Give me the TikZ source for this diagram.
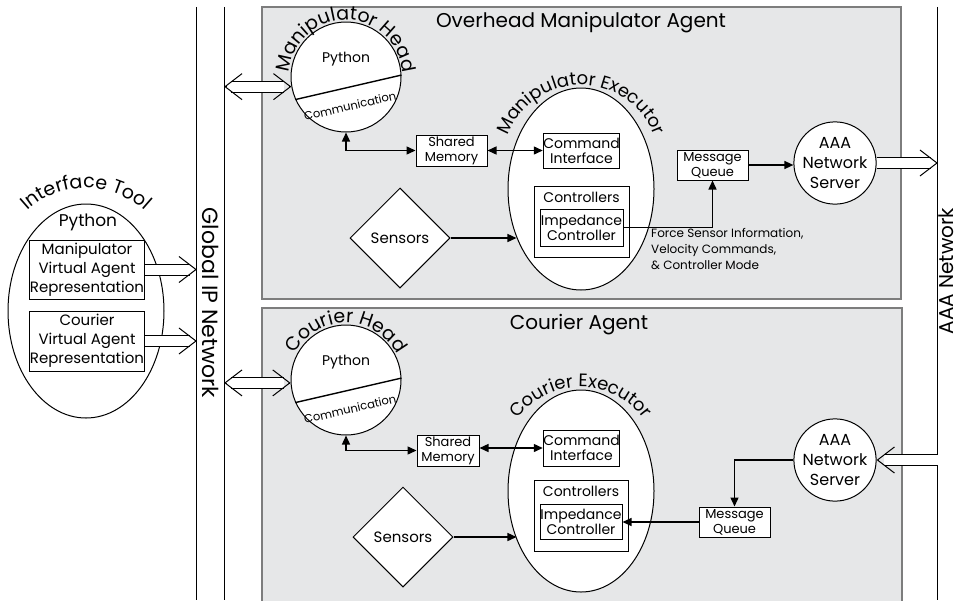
\documentclass[tikz,border=0pt]{standalone}
\usepackage{fontspec}
\setmainfont{Poppins}
\usetikzlibrary{positioning}
\usetikzlibrary{calc}
\usetikzlibrary{arrows.meta}
\usetikzlibrary{shapes.geometric}
\usetikzlibrary{decorations.text}
\definecolor{panelfill}{RGB}{230,231,232}
\definecolor{panelrule}{RGB}{125,125,125}
\newcommand\bigfont{\fontsize{20}{24}\selectfont}
\newcommand\arcfont{\fontsize{19}{19}\selectfont}
\newcommand\execfont{\fontsize{18}{18}\selectfont}
\newcommand\boxfont{\fontsize{14}{15}\selectfont}
\newcommand\smallfont{\fontsize{13}{15}\selectfont}
\newcommand\notefont{\fontsize{12}{16}\selectfont}
\newcommand\commfont{\fontsize{11.5}{14}\selectfont}
\newcommand\itoolfont{\fontsize{15}{19}\selectfont}
\newcommand\pipeR[2]{%
    \draw[pipe, shorten >=7pt] (#1) -- (#2);
    \draw[chev] ($(#2)!2pt!(#1)$) -- (#2);}
\newcommand\pipeLR[2]{%
    \draw[pipe, shorten >=7pt, shorten <=7pt] (#1) -- (#2);
    \draw[chev] ($(#2)!2pt!(#1)$) -- (#2);
    \draw[chev] ($(#1)!2pt!(#2)$) -- (#1);}

\begin{document}
\begin{tikzpicture}[x=1pt, y=1pt,
    every node/.style={inner sep=0pt, align=center},
    panel/.style={fill=panelfill, draw=panelrule, line width=1.2pt},
    box/.style={draw, fill=white, line width=1pt},
    head/.style={circle, draw, fill=white, line width=1pt, minimum size=110pt},
    exec/.style={ellipse, draw, fill=white, line width=1pt, minimum width=146pt, minimum height=202pt},
    sensor/.style={diamond, draw, fill=white, line width=1pt, minimum width=100pt, minimum height=100pt, font=\fontsize{15}{17}\selectfont},
    server/.style={circle, draw, fill=white, line width=1pt, minimum size=82pt, font=\fontsize{16}{20}\selectfont},
    link/.style={line width=1.4pt, -{Triangle[length=9pt,width=8pt]}},
    twolink/.style={line width=1.4pt, {Triangle[length=9pt,width=8pt]}-{Triangle[length=9pt,width=8pt]}},
    pipe/.style={double, double distance=10pt, line width=1pt},
    chev/.style={-{Straight Barb[length=17pt,width=26pt,line width=1pt]}},
    arctext/.style={decorate, decoration={text along path, text align=center, text={|\arcfont|#1}}},
    exectext/.style={decorate, decoration={text along path, text align=center, text={|\execfont|#1}}}]
    \useasboundingbox (0,0) rectangle (960,-600);

    \draw[panel] (262,-7) rectangle (901,-299);
    \draw[panel] (262,-308) rectangle (902,-610);

    \node[minimum width=27pt, minimum height=593pt] (gip) at (210.5,-303.5) {};
    \draw[line width=1pt] (gip.north west) -- (gip.south west) (gip.north east) -- (gip.south east);
    \node[rotate=-90, font=\fontsize{22}{24}\selectfont] (giplbl) at (210.5,-303) {Global IP Network};
    \node[minimum width=22pt, minimum height=593pt] (aaanet) at (949,-303.5) {};
    \draw[line width=1pt] (aaanet.north west) -- (aaanet.south west);
    \node[rotate=90, font=\bigfont] (aaalbl) at (946.5,-271) {AAA Network};

    \node[font=\bigfont] (mtitle) at (581,-23) {Overhead Manipulator Agent};
    \node[font=\bigfont] (ctitle) at (579,-325) {Courier Agent};

    % interface tool
    \node[ellipse, draw, fill=white, line width=1pt, minimum width=156pt, minimum height=214pt] (itool) at (86,-311) {};
    \path[arctext=Interface Tool] ($(itool.center)+(0,36)+(140:87)$) arc[start angle=140, end angle=40, radius=87];
    \node[font=\fontsize{17}{19}\selectfont] (ipy) at (88,-222) {Python};
    \node[box, minimum width=114pt, minimum height=59pt, font=\itoolfont] (ivman) at (87,-269.5) {Manipulator\\Virtual Agent\\Representation};
    \node[box, minimum width=114pt, minimum height=60pt, font=\itoolfont] (ivcou) at (87,-341) {Courier\\Virtual Agent\\Representation};

    % overhead manipulator agent
    \node[head] (mhead) at (346,-77) {};
    \draw[line width=1.4pt] (mhead.204) -- (mhead.2);
    \path[arctext=Manipulator Head] ([shift={(176:57)}]mhead.center) arc[start angle=176, end angle=4, radius=57];
    \node[font=\boxfont] (mhpy) at (346,-59) {Python};
    \node[font=\commfont, rotate=13] (mhcom) at (350,-106) {Communication};
    \node[box, minimum width=71pt, minimum height=31pt, font=\smallfont] (mshm) at (451.5,-150.5) {Shared\\Memory};
    \node[exec] (mexec) at (581,-189) {};
    \path[exectext=Manipulator Executor] ($(mexec.center)+(0,26)+(168:78)$) arc[start angle=168, end angle=12, radius=78];
    \node[box, minimum width=71pt, minimum height=35pt, font=\boxfont] (mcmd) at (581.5,-150.5) {Command\\Interface};
    \node[box, minimum width=95pt, minimum height=71pt, label={[font=\boxfont, anchor=north, yshift=-6pt]north:Controllers}] (mctl) at (581.5,-221.5) {};
    \node[box, minimum width=83pt, minimum height=37pt, font=\boxfont] (mimp) at (581.5,-227.5) {Impedance\\Controller};
    \node[sensor] (msens) at (400,-238) {Sensors};
    \node[box, minimum width=71pt, minimum height=30pt, font=\smallfont] (mmq) at (712.5,-165) {Message\\Queue};
    \node[server] (msrv) at (835,-163) {AAA\\Network\\Server};
    \node[font=\notefont, anchor=north west, align=left] (mnote) at (651,-228) {Force Sensor Information,\\Velocity Commands,\\\& Controller Mode};

    \draw[twolink] (mhead.south) |- (mshm.west);
    \draw[twolink] (mshm.east) -- (mcmd.west);
    \draw[link] (msens.east) -- (msens.east -| mexec.217);
    \draw[link] (mimp.east) -| (mmq.south);
    \draw[link] (mmq.east) -- (mmq.east -| msrv.west);

    % courier agent
    \node[head] (chead) at (346,-380) {};
    \draw[line width=1.4pt] (chead.204) -- (chead.2);
    \path[arctext=Courier Head] ([shift={(176:57)}]chead.center) arc[start angle=176, end angle=4, radius=57];
    \node[font=\boxfont] (chpy) at (346,-362) {Python};
    \node[font=\commfont, rotate=13] (chcom) at (350,-409) {Communication};
    \node[box, minimum width=62pt, minimum height=31pt, font=\smallfont] (cshm) at (448,-450.5) {Shared\\Memory};
    \node[exec] (cexec) at (581,-491) {};
    \path[exectext=Courier Executor] ($(cexec.center)+(0,26)+(168:78)$) arc[start angle=168, end angle=12, radius=78];
    \node[box, minimum width=71pt, minimum height=36pt, font=\boxfont] (ccmd) at (581.5,-448) {Command\\Interface};
    \node[box, minimum width=94pt, minimum height=71pt, label={[font=\boxfont, anchor=north, yshift=-6pt]north:Controllers}] (cctl) at (581,-515.5) {};
    \node[box, minimum width=82pt, minimum height=35pt, font=\boxfont] (cimp) at (581,-521.5) {Impedance\\Controller};
    \node[sensor] (csens) at (403,-537) {Sensors};
    \node[box, minimum width=71pt, minimum height=30pt, font=\smallfont] (cmq) at (734.5,-522) {Message\\Queue};
    \node[server] (csrv) at (835,-460) {AAA\\Network\\Server};

    \draw[twolink] (chead.south) |- (cshm.west);
    \draw[twolink] (cshm.east |- ccmd.west) -- (ccmd.west);
    \draw[link] (csens.east) -- (csens.east -| cexec.217);
    \draw[link] (csrv.west) -| (cmq.north);
    \draw[link] (cmq.west) -- (cmq.west -| cimp.east);

    % network links
    \coordinate (pman) at (ivman.east -| gip.west);
    \pipeR{ivman.east}{pman}
    \coordinate (pcou) at (ivcou.east -| gip.west);
    \pipeR{ivcou.east}{pcou}
    \coordinate (pmhead) at (gip.east |- mhead.190);
    \pipeLR{pmhead}{mhead.190}
    \coordinate (pchead) at (gip.east |- chead.183);
    \pipeLR{pchead}{chead.183}
    \coordinate (pmsrv) at (msrv.east -| aaanet.west);
    \pipeR{msrv.east}{pmsrv}
    \coordinate (pcsrv) at (csrv.east -| aaanet.west);
    \pipeR{pcsrv}{csrv.east}
\end{tikzpicture}
\end{document}
